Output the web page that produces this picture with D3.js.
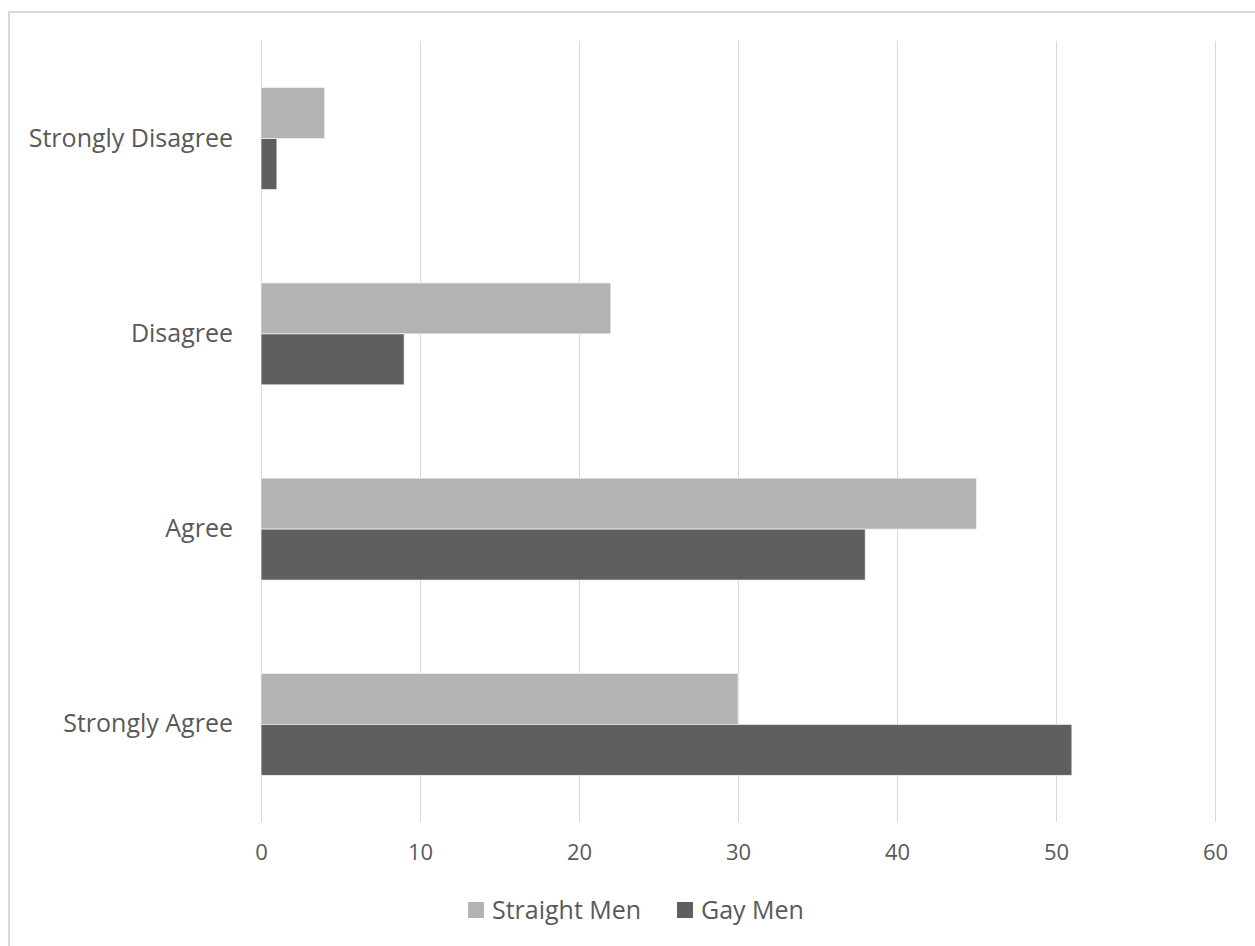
<!DOCTYPE html>
<html>
<head>
<meta charset="utf-8">
<script src="https://cdn.jsdelivr.net/npm/d3@7"></script>
<style>
  html, body { margin: 0; padding: 0; background: #fff; }
  svg { display: block; }
  text { font-family: "Open Sans", "Noto Sans", sans-serif; fill: #595959; }
</style>
</head>
<body>
<svg id="chart" width="1255" height="946"></svg>
<script>
// Survey responses, listed top to bottom
const categories = ["Strongly Disagree", "Disagree", "Agree", "Strongly Agree"];
const seriesNames = ["Straight Men", "Gay Men"];
const straightMen = [4, 22, 45, 30];
const gayMen = [1, 9, 38, 51];
const xTicks = [0, 10, 20, 30, 40, 50, 60];
const seriesColors = ["#b3b3b3", "#5f5f5f"];

const svg = d3.select("#chart");

// outer chart frame
svg.append("rect")
  .attr("x", 9).attr("y", 12)
  .attr("width", 1260).attr("height", 950)
  .attr("fill", "#fff")
  .attr("stroke", "#d9d9d9").attr("stroke-width", 2);

const plot = { left: 261, right: 1215, top: 41, bottom: 822 };

const x = d3.scaleLinear().domain([0, 60]).range([plot.left, plot.right]);
const y = d3.scaleBand().domain(categories).range([plot.top, plot.bottom]).paddingInner(0.478).paddingOuter(0.239);
const ySeries = d3.scaleBand().domain(seriesNames).range([0, y.bandwidth()]);

// vertical gridlines
svg.append("g")
  .selectAll("line")
  .data(xTicks)
  .join("line")
  .attr("x1", d => Math.round(x(d)) + 0.5)
  .attr("x2", d => Math.round(x(d)) + 0.5)
  .attr("y1", plot.top)
  .attr("y2", plot.bottom)
  .attr("stroke", "#d9d9d9")
  .attr("stroke-width", 1);

// x-axis tick labels
const xAxis = d3.axisBottom(x).tickValues(xTicks).tickSize(0).tickPadding(0);
const gx = svg.append("g")
  .attr("transform", `translate(0, ${plot.bottom + 30})`)
  .call(xAxis);
gx.select(".domain").remove();
gx.selectAll("text")
  .attr("dy", "0.35em")
  .style("font-size", "22px")
  .style("font-family", "'Open Sans', sans-serif")
  .attr("fill", "#595959");

// bars
const rows = categories.map((c, i) => ({ category: c, values: [straightMen[i], gayMen[i]] }));
const groups = svg.append("g")
  .selectAll("g")
  .data(rows)
  .join("g")
  .attr("transform", d => `translate(0, ${y(d.category)})`);

groups.selectAll("rect")
  .data(d => d.values.map((v, j) => ({ name: seriesNames[j], value: v, color: seriesColors[j] })))
  .join("rect")
  .attr("x", x(0))
  .attr("y", d => ySeries(d.name))
  .attr("width", d => x(d.value) - x(0))
  .attr("height", ySeries.bandwidth())
  .attr("fill", d => d.color)
  .attr("stroke", "#f2f2f2")
  .attr("stroke-width", 0.75);

// category labels
const yAxis = d3.axisLeft(y).tickSize(0).tickPadding(28);
const gy = svg.append("g")
  .attr("transform", `translate(${plot.left}, 0)`)
  .call(yAxis);
gy.select(".domain").remove();
gy.selectAll("text")
  .style("font-size", "25px")
  .style("font-family", "'Open Sans', sans-serif")
  .attr("fill", "#595959");

// legend
const legendItems = [
  { name: seriesNames[0], color: seriesColors[0], x: 468 },
  { name: seriesNames[1], color: seriesColors[1], x: 677 }
];
const legend = svg.append("g")
  .selectAll("g")
  .data(legendItems)
  .join("g")
  .attr("transform", d => `translate(${d.x}, 910)`);
legend.append("rect")
  .attr("x", 0).attr("y", -8)
  .attr("width", 16).attr("height", 16)
  .attr("fill", d => d.color);
legend.append("text")
  .attr("x", 24)
  .attr("dy", "0.35em")
  .style("font-size", "25px")
  .text(d => d.name);
</script>
</body>
</html>
